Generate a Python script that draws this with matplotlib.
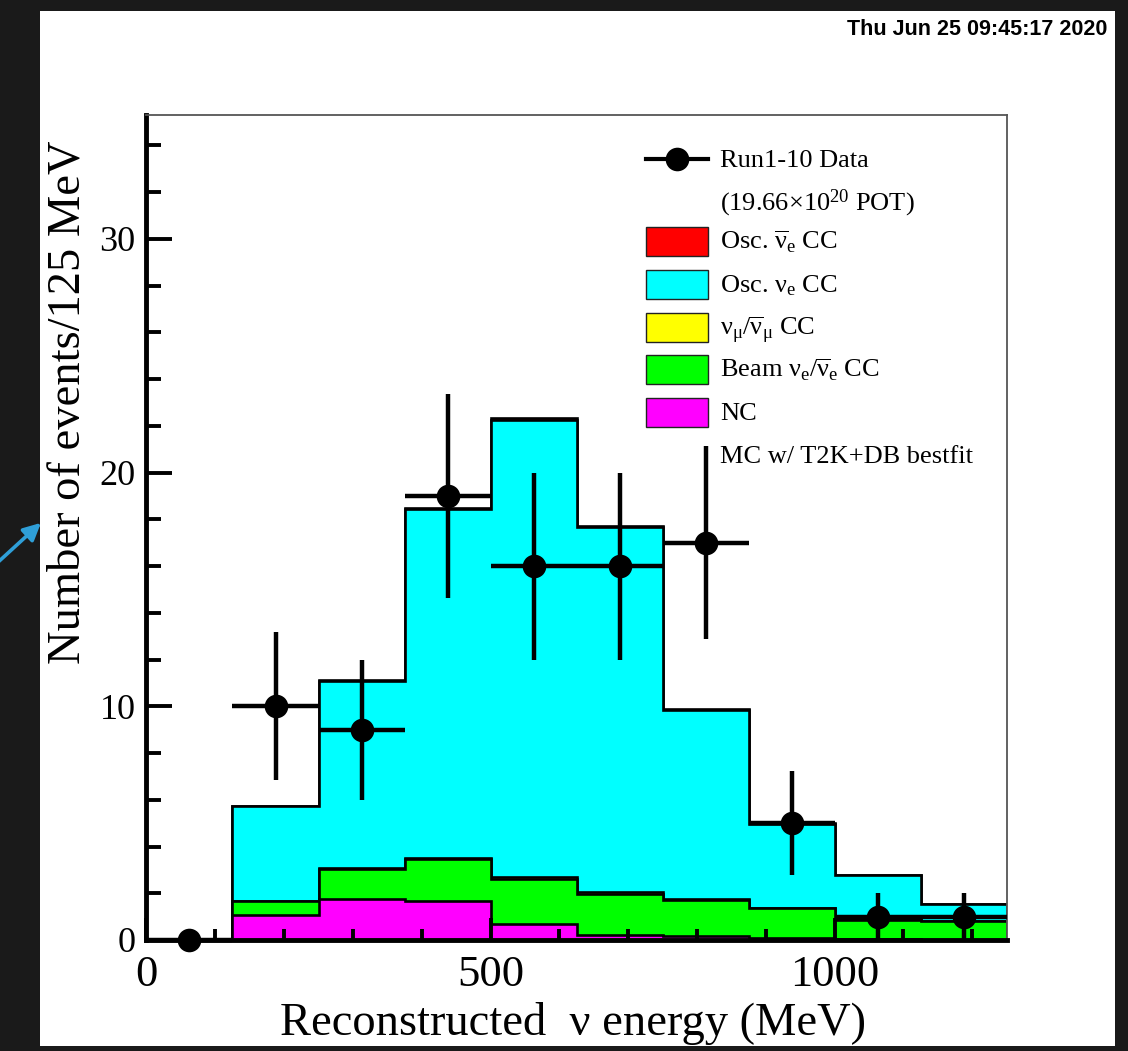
import numpy as np
import matplotlib
matplotlib.use("Agg")
import matplotlib.pyplot as plt
from matplotlib.patches import Rectangle, FancyArrowPatch
from matplotlib.lines import Line2D
from matplotlib.ticker import MultipleLocator

plt.rcParams["font.family"] = ["Liberation Serif", "DejaVu Serif"]
plt.rcParams["mathtext.fontset"] = "custom"
plt.rcParams["mathtext.rm"] = "Liberation Serif"
plt.rcParams["mathtext.it"] = "Liberation Serif:italic"
plt.rcParams["mathtext.bf"] = "Liberation Serif:bold"

W, H = 1128, 1051

# ---- binned MC prediction (events per 125 MeV bin) ----
bin_edges = [125, 250, 375, 500, 625, 750, 875, 1000, 1125, 1250]
nc         = [1.07, 1.74, 1.67, 0.70, 0.23, 0.16, 0.08, 0.03, 0.02]
beam_nue   = [0.60, 1.31, 1.78, 1.90, 1.75, 1.55, 1.28, 0.84, 0.80]
numu       = [0.02, 0.03, 0.04, 0.10, 0.09, 0.03, 0.02, 0.01, 0.01]
osc_nue    = [4.03, 8.02, 14.94, 19.57, 15.60, 8.10, 3.59, 1.89, 0.70]
osc_nuebar = [0.01, 0.02, 0.04, 0.05, 0.04, 0.03, 0.02, 0.01, 0.01]

# ---- observed data ----
data_energy = [62.5, 187.5, 312.5, 437.5, 562.5, 687.5, 812.5, 937.5, 1062.5, 1187.5]
data_counts = [0, 10, 9, 19, 16, 16, 17, 5, 1, 1]
bin_half_width = 62.5

legend_labels = [
    "Run1-10 Data",
    "(19.66×10$^{20}$ POT)",
    r"Osc. $\overline{\mathrm{\nu}}_{\mathrm{e}}$ CC",
    r"Osc. $\mathrm{\nu}_{\mathrm{e}}$ CC",
    r"$\mathrm{\nu}_{\mathrm{\mu}}$/$\overline{\mathrm{\nu}}_{\mathrm{\mu}}$ CC",
    r"Beam $\mathrm{\nu}_{\mathrm{e}}$/$\overline{\mathrm{\nu}}_{\mathrm{e}}$ CC",
    "NC",
    "MC w/ T2K+DB bestfit",
]

layers = [
    (nc, "#ff00ff"),
    (beam_nue, "#00ff00"),
    (numu, "#ffff00"),
    (osc_nue, "#00ffff"),
    (osc_nuebar, "#ff0000"),
]


def fx(x):
    return x / W


def fy(y):
    return 1 - y / H


fig = plt.figure(figsize=(W / 100, H / 100), dpi=100, facecolor="#1a1a1a")

# white canvas behind everything
fig.patches.append(Rectangle((fx(40), fy(1046)), (1115 - 40) / W, (1046 - 11) / H,
                             transform=fig.transFigure, facecolor="white",
                             edgecolor="none", zorder=-10))

ax = fig.add_axes([fx(146.5), fy(940), (1006.5 - 146.5) / W, (940 - 115) / H])
ax.set_facecolor("white")
ax.set_zorder(1)

# stacked histogram: each cumulative sum filled from zero, largest first
cum = np.cumsum([np.asarray(v, dtype=float) for v, _ in layers], axis=0)
for i in range(len(layers) - 1, -1, -1):
    z = 1.0 + (len(layers) - i) * 0.1
    ax.stairs(cum[i], bin_edges, baseline=0, fill=True, facecolor=layers[i][1],
              linewidth=0, zorder=z)
    ax.stairs(cum[i], bin_edges, baseline=0, fill=False, edgecolor="black",
              linewidth=1.9, zorder=z + 0.05)

# data with Poisson errors
counts = np.asarray(data_counts, dtype=float)
ax.errorbar(data_energy, counts, yerr=np.sqrt(counts), xerr=bin_half_width,
            fmt="o", color="black", ms=17, mew=0, elinewidth=3.2, capsize=0,
            zorder=6, clip_on=False)

ax.set_xlim(0, 1250)
ax.set_ylim(0, 35.3)
ax.xaxis.set_major_locator(MultipleLocator(500))
ax.xaxis.set_minor_locator(MultipleLocator(100))
ax.yaxis.set_major_locator(MultipleLocator(10))
ax.yaxis.set_minor_locator(MultipleLocator(2))
ax.set_axisbelow(False)
ax.tick_params(axis="x", which="major", direction="in", length=16, width=2.8,
               labelsize=32, pad=11)
ax.tick_params(axis="x", which="minor", direction="in", length=8, width=2.8)
ax.tick_params(axis="y", which="major", direction="in", length=18.5, width=2.8,
               labelsize=26, pad=8)
ax.tick_params(axis="y", which="minor", direction="in", length=10.5, width=2.8)
ax.tick_params(top=False, right=False)

for side in ("left", "bottom"):
    ax.spines[side].set_linewidth(3.5)
    ax.spines[side].set_color("black")
for side in ("top", "right"):
    ax.spines[side].set_linewidth(1.3)
    ax.spines[side].set_color("#555555")

# axis titles
fig.text(fx(68), fy(402.5), "Number of events/125 MeV", rotation=90,
         ha="center", va="center", fontsize=33.5)
fig.text(fx(573), fy(1035), "Reconstructed  ν energy (MeV)", ha="center",
         va="baseline", fontsize=33.5)

# legend
rows_y = [159, 202, 241.5, 284, 327, 369.5, 412, 455]
box_x0, box_x1 = 646, 708
fig.lines.append(Line2D([fx(box_x0), fx(box_x1)], [fy(rows_y[0])] * 2,
                        transform=fig.transFigure, color="black", lw=3, zorder=5))
fig.lines.append(Line2D([fx((box_x0 + box_x1) / 2)], [fy(rows_y[0])],
                        transform=fig.transFigure, color="black", marker="o",
                        ms=17, mew=0, zorder=5))
box_colors = [c for _, c in layers][::-1]
for k, color in enumerate(box_colors):
    yc = rows_y[2 + k]
    fig.patches.append(Rectangle((fx(box_x0), fy(yc + 14.5)), (box_x1 - box_x0) / W,
                                 29 / H, transform=fig.transFigure,
                                 facecolor=color, edgecolor="#222222", lw=1,
                                 zorder=5))
for yc, label in zip(rows_y, legend_labels):
    fig.text(fx(720), fy(yc + 8), label, fontsize=19, ha="left", va="baseline",
             zorder=5)

# timestamp
fig.text(fx(1107), fy(35), "Thu Jun 25 09:45:17 2020", family="Liberation Sans",
         weight="bold", fontsize=15.5, ha="right", va="baseline")

# pointer arrow
fig.patches.append(FancyArrowPatch(posA=(fx(-4), fy(564)), posB=(fx(43), fy(521)),
                                   transform=fig.transFigure, arrowstyle="-|>",
                                   mutation_scale=26, color="#2f9fd8", lw=2.6,
                                   zorder=4))

fig.savefig("out.png", dpi=100, facecolor=fig.get_facecolor())
